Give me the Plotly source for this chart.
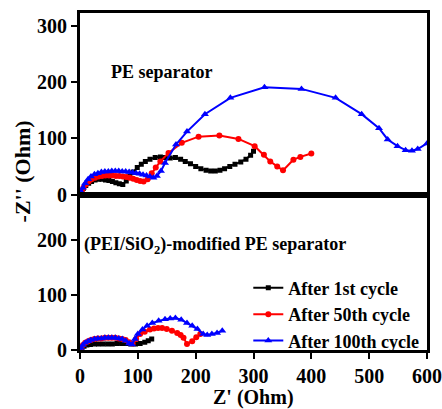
import plotly.graph_objects as go

# ---------------- data ----------------
# Top panel: PE separator
pe_1st_x = [0, 3, 6, 10, 15, 20, 26, 32, 38, 44, 50, 56, 62, 68, 74, 80, 86, 92, 99, 106, 113, 121, 130, 139, 147, 156, 165, 174, 182, 191, 200, 209, 218, 226, 234, 242, 250, 259, 268, 278, 287, 295, 300]
pe_1st_y = [0, 6, 11, 16, 20, 23, 26, 27, 27, 26, 25, 23, 21, 19, 18, 24, 32, 40, 48, 54, 59, 63, 66, 67, 66, 65, 66, 63, 59, 55, 50, 46, 43, 42, 42, 43, 46, 50, 54, 58, 63, 70, 77]

pe_50th_x = [0, 3, 6, 10, 15, 20, 26, 32, 38, 44, 50, 56, 62, 68, 74, 80, 86, 92, 98, 104, 110, 117, 124, 131, 139, 153, 176, 205, 241, 274, 302, 318, 329, 341, 351, 369, 381, 400]
pe_50th_y = [0, 6, 12, 18, 23, 27, 30, 32, 33, 34, 34, 34, 33, 33, 32, 31, 30, 28, 26, 24, 23, 27, 38, 48, 59, 74, 92, 103, 105, 99, 86, 71, 59, 50, 43, 62, 67, 73]

pe_100th_x = [0, 2, 5, 9, 14, 19, 25, 31, 37, 43, 49, 55, 61, 67, 73, 79, 85, 91, 97, 103, 109, 115, 121, 127, 133, 140, 147, 166, 185, 216, 260, 319, 383, 442, 487, 517, 532, 549, 563, 574, 584, 600]
pe_100th_y = [0, 5, 12, 20, 27, 32, 36, 38, 40, 41, 41, 42, 42, 42, 41, 41, 40, 39, 38, 37, 35, 34, 32, 30, 33, 42, 56, 89, 112, 143, 172, 191, 188, 172, 143, 118, 98, 86, 79, 78, 81, 91]

# Bottom panel: (PEI/SiO2)-modified PE separator
mod_1st_x = [0, 3, 7, 12, 18, 25, 32, 40, 48, 56, 64, 72, 80, 88, 96, 104, 112, 118, 124]
mod_1st_y = [0, 4, 7, 9, 10, 11, 11, 11, 11, 11, 12, 12, 12, 11, 11, 12, 14, 17, 20]

mod_50th_x = [0, 2, 5, 9, 14, 19, 25, 31, 37, 43, 49, 55, 61, 67, 73, 79, 85, 91, 97, 104, 112, 121, 128, 135, 142, 150, 159, 168, 174, 179, 185, 194, 201, 208]
mod_50th_y = [0, 4, 9, 13, 16, 18, 20, 21, 21, 22, 22, 22, 22, 21, 20, 18, 14, 12, 20, 29, 33, 37, 39, 40, 40, 38, 35, 31, 27, 22, 11, 16, 23, 29]

mod_100th_x = [0, 2, 5, 9, 14, 19, 25, 31, 37, 43, 49, 55, 61, 67, 73, 79, 85, 90, 95, 100, 108, 116, 125, 136, 147, 156, 165, 175, 185, 194, 203, 213, 220, 228, 237, 246]
mod_100th_y = [0, 4, 9, 13, 16, 18, 20, 21, 21, 22, 22, 22, 22, 21, 20, 17, 12, 10, 20, 29, 37, 44, 49, 53, 56, 57, 58, 55, 49, 44, 38, 29, 27, 29, 31, 35]

series_names = ["After 1st cycle", "After 50th cycle", "After 100th cycle"]
colors = ["#000000", "#ff0000", "#0000ff"]
symbols = ["square", "circle", "triangle-up"]
msizes = [5, 6, 7]

x_ticks = [0, 100, 200, 300, 400, 500, 600]

FONT = "Liberation Serif"

fig = go.Figure()

top = [(pe_1st_x, pe_1st_y), (pe_50th_x, pe_50th_y), (pe_100th_x, pe_100th_y)]
bot = [(mod_1st_x, mod_1st_y), (mod_50th_x, mod_50th_y), (mod_100th_x, mod_100th_y)]

for i, (x, y) in enumerate(top):
    fig.add_trace(go.Scatter(x=x, y=y, mode="lines+markers", xaxis="x", yaxis="y",
                             line=dict(color=colors[i], width=2),
                             marker=dict(symbol=symbols[i], size=msizes[i], color=colors[i]),
                             showlegend=False, name=series_names[i]))
for i, (x, y) in enumerate(bot):
    fig.add_trace(go.Scatter(x=x, y=y, mode="lines+markers", xaxis="x2", yaxis="y2",
                             line=dict(color=colors[i], width=2),
                             marker=dict(symbol=symbols[i], size=msizes[i], color=colors[i]),
                             showlegend=True, name=series_names[i]))

split = 155 / 336

axis_common = dict(showline=True, linecolor="black", linewidth=3, mirror=True,
                   showgrid=False, zeroline=False, automargin=False)
tickfont = dict(family=FONT, size=20, color="black", weight="bold")

fig.update_layout(
    width=442, height=409,
    margin=dict(l=80, r=15, t=13, b=59, autoexpand=False),
    paper_bgcolor="white", plot_bgcolor="white",
    xaxis=dict(domain=[0, 1], anchor="y", range=[0, 600], showticklabels=False, ticks="",
               tickvals=x_ticks, **axis_common),
    yaxis=dict(domain=[split, 1], anchor="x", range=[0, 323], tickvals=[0, 100, 200, 300],
               ticks="outside", ticklen=6, tickwidth=2, tickcolor="black", tickfont=tickfont,
               **axis_common),
    xaxis2=dict(domain=[0, 1], anchor="y2", range=[0, 600], tickvals=x_ticks,
                ticks="outside", ticklen=6, tickwidth=2, tickcolor="black", tickfont=tickfont,
                **axis_common),
    yaxis2=dict(domain=[0, split], anchor="x2", range=[0, 282], tickvals=[0, 100, 200],
                ticks="outside", ticklen=6, tickwidth=2, tickcolor="black", tickfont=tickfont,
                **axis_common),
    legend=dict(x=0.485, y=0.105, xanchor="left", yanchor="middle",
                font=dict(family=FONT, size=18, color="black", weight="bold"),
                bgcolor="rgba(0,0,0,0)", tracegroupgap=0, itemwidth=30),
    annotations=[
        dict(text="PE separator", xref="paper", yref="paper", x=0.0836, y=0.824,
             xanchor="left", yanchor="middle", showarrow=False,
             font=dict(family=FONT, size=18, color="black", weight="bold")),
        dict(text="(PEI/SiO<sub>2</sub>)-modified PE separator", xref="paper", yref="paper",
             x=0.006, y=0.31, xanchor="left", yanchor="middle", showarrow=False,
             font=dict(family=FONT, size=18, color="black", weight="bold")),
        dict(text="-Z'' (Ohm)", xref="paper", yref="paper", x=-0.167, y=0.53,
             xanchor="center", yanchor="middle", textangle=-90, showarrow=False,
             font=dict(family=FONT, size=22, color="black", weight="bold")),
        dict(text="Z' (Ohm)", xref="paper", yref="paper", x=0.5, y=-0.141,
             xanchor="center", yanchor="middle", showarrow=False,
             font=dict(family=FONT, size=20, color="black", weight="bold")),
    ],
)

fig.write_html("out.html")
